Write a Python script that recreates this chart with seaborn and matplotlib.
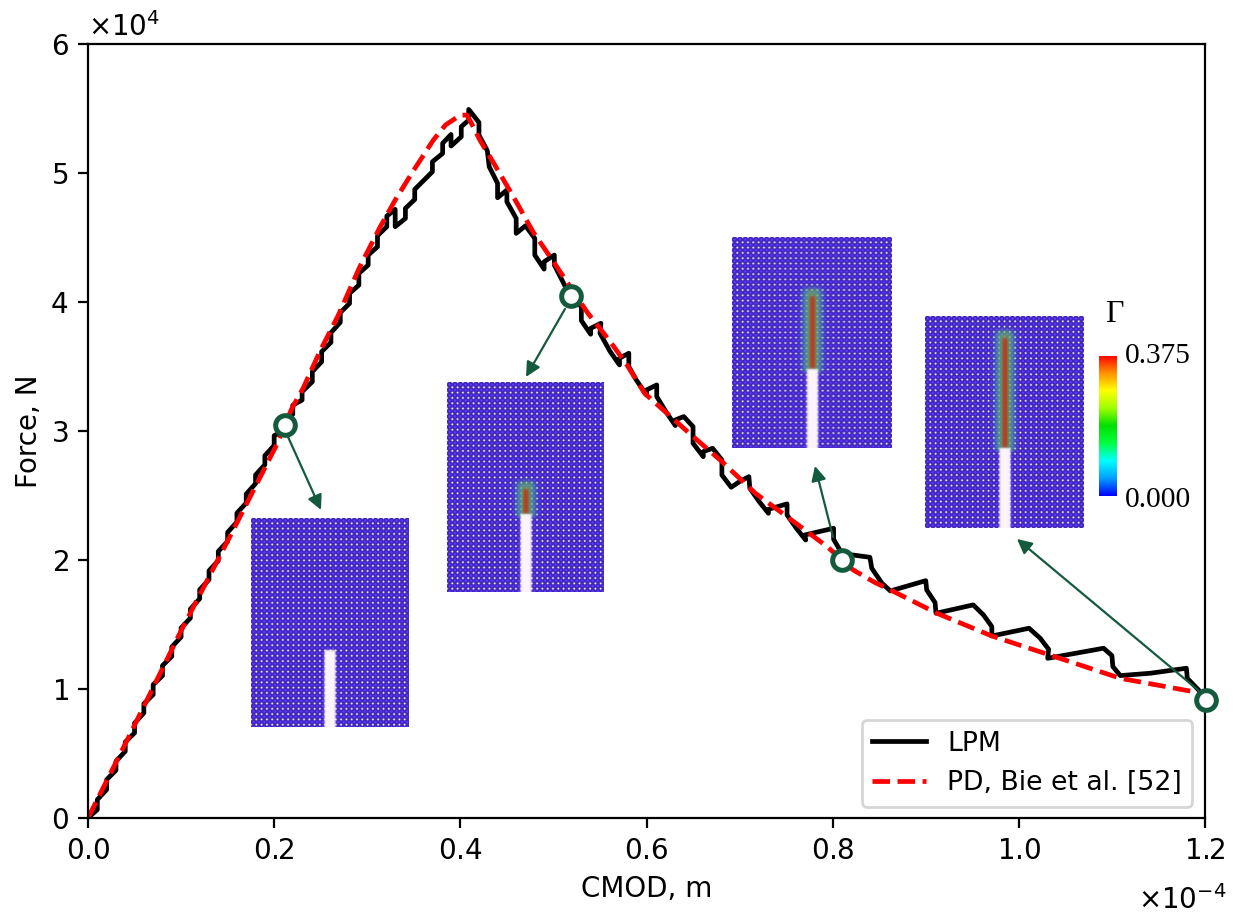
# Force vs CMOD curve, LPM against PD, with damage snapshots as insets
import numpy as np
import pandas as pd
import seaborn as sns
import matplotlib.pyplot as plt
from matplotlib.colors import LinearSegmentedColormap

# CMOD in 1e-4 m, force in 1e4 N, both
lpm_cmod = [0, .01, .01, .02, .02, .03, .03, .04, .04, .05, .05, .06, .06, .07, .07, .08, .08, .09, .09,
            .10, .10, .11, .11, .12, .12, .13, .13, .14, .14, .15, .15, .16, .16, .17, .17, .18, .18,
            .19, .19, .20, .20, .21, .21, .22, .22, .23, .23, .241, .241, .251, .251, .261, .261,
            .271, .271, .281, .281, .291, .291, .301, .301, .311, .311, .321, .321, .330, .330,
            .341, .341, .351, .351, .370, .370, .381, .381, .390, .390, .401, .401, .409, .409,
            .420, .420, .429, .431, .440, .440, .450, .450, .460, .460, .470, .480, .480, .490, .490,
            .501, .501, .512, .518, .530, .530, .540, .540, .551, .550, .561, .571, .571, .581, .581,
            .589, .600, .600, .611, .611, .622, .631, .631, .640, .650, .650, .661, .661, .671, .681,
            .681, .691, .700, .710, .711, .721, .731, .731, .751, .751, .761, .771, .770, .801, .801,
            .810, .840, .842, .853, .862, .900, .901, .910, .911, .951, .962, .971, .971, 1.011,
            1.023, 1.032, 1.031, 1.071, 1.091, 1.100, 1.101, 1.109, 1.141, 1.180, 1.181, 1.193, 1.200]
lpm_force = [0, .065, .142, .220, .297, .370, .439, .517, .589, .659, .736, .814, .886, .956, 1.034, 1.103, 1.181, 1.253, 1.326,
             1.403, 1.473, 1.550, 1.620, 1.700, 1.770, 1.848, 1.917, 1.995, 2.067, 2.145, 2.214, 2.295, 2.364, 2.442, 2.512, 2.592, 2.659,
             2.739, 2.809, 2.889, 2.964, 3.000, 3.070, 3.130, 3.200, 3.240, 3.305, 3.382, 3.460, 3.537, 3.615, 3.687, 3.762,
             3.842, 3.917, 3.989, 4.067, 4.131, 4.222, 4.286, 4.364, 4.428, 4.514, 4.584, 4.666, 4.718, 4.584,
             4.648, 4.726, 4.795, 4.873, 5.010, 5.087, 5.152, 5.230, 5.299, 5.209, 5.281, 5.359, 5.410, 5.493,
             5.392, 5.294, 5.173, 5.049, 4.920, 4.808, 4.868, 4.777, 4.648, 4.532, 4.591, 4.493, 4.364, 4.255, 4.312,
             4.364, 4.286, 4.131, 4.046, 3.964, 3.856, 3.750, 3.796, 3.835, 3.758, 3.615, 3.512, 3.564, 3.603, 3.499,
             3.396, 3.279, 3.318, 3.357, 3.267, 3.137, 3.042, 3.086, 3.112, 3.034, 2.905, 2.801, 2.840, 2.866, 2.776,
             2.659, 2.564, 2.608, 2.646, 2.556, 2.453, 2.362, 2.393, 2.435, 2.349, 2.246, 2.155, 2.194, 2.246, 2.160,
             2.050, 2.021, 1.936, 1.820, 1.760, 1.840, 1.768, 1.670, 1.587, 1.652, 1.574, 1.484, 1.411, 1.471,
             1.393, 1.308, 1.238, 1.290, 1.316, 1.259, 1.174, 1.104, 1.122, 1.161, 1.083, .993, .915]

pd_cmod = [0, .045, .0988, .1526, .2027, .219, .231, .249, .269, .292, .314, .330, .350, .371, .384, .400, .407, .411,
           .421, .435, .457, .478, .500, .518, .537, .561, .579, .598, .622, .650, .679, .717, .758, .794, .822, .845,
           .862, .912, .971, 1.033, 1.109, 1.193, 1.200]
pd_force = [0, .646, 1.434, 2.184, 2.894, 3.175, 3.330, 3.615, 3.899, 4.273, 4.584, 4.790, 5.023, 5.255, 5.372, 5.449, 5.449, 5.398,
            5.255, 5.087, 4.816, 4.545, 4.312, 4.118, 3.913, 3.693, 3.512, 3.292, 3.137, 2.957, 2.776, 2.517, 2.298, 2.104, 1.923, 1.827,
            1.768, 1.587, 1.411, 1.264, 1.083, .972, .930]

snap_cmod = [.212, .519, .810, 1.201]
snap_force = [3.05, 4.045, 2.0, .915]
arrow_from = [(.2149, 2.954), (.5124, 3.946), (.8004, 2.178), (1.1925, .992)]
arrow_to = [(.2503, 2.388), (.4705, 3.419), (.781, 2.729), (.998, 2.163)]

# inset boxes in pixels of the picture: left, right, top, bottom, crack x, crack tip y, damage tip y
W, H = 1239, 915
panels = [(251, 409, 518, 727, 330, 650, 650),
          (447, 604, 382, 592, 526, 514, 482),
          (732, 891, 237, 448, 812, 369, 289),
          (925, 1084, 316, 528, 1005, 448, 331)]

GREEN = "#145a3c"
gamma_cmap = LinearSegmentedColormap.from_list(
    "gamma", ["#0000ff", "#00a0ff", "#00ffff", "#00ff40", "#00e000", "#a0ff00", "#ffff00", "#ff9000", "#ff0000"])


def px_axes(fig, l, r, t, b):
    ax = fig.add_axes([l / W, 1 - b / H, (r - l) / W, (b - t) / H])
    ax.axis("off")
    return ax


def step(d, s=1.5):
    return 1 / (1 + np.exp(np.clip(d / s, -30, 30)))


def panel_image(l, r, t, b, cx, crack, tip):
    xx, yy = np.meshgrid(np.arange(l, r) + .5, np.arange(t, b) + .5)
    u = .5 + .5 * np.cos(2 * np.pi * (xx - l) / 5.3)
    v = .5 + .5 * np.cos(2 * np.pi * (yy - t) / 5.3)
    img = np.zeros(xx.shape + (3,))
    base = np.array([.16, .05, .62])
    cell = np.array([.32, .18, .92])
    dot = np.array([.74, .72, .92])
    line = np.array([.42, .35, .78])
    for c in range(3):
        img[..., c] = (base[c] + (cell[c] - base[c]) * (1 - u) * (1 - v) * 1.5
                       + (line[c] - base[c]) * .45 * (u ** 4 + v ** 4)
                       + (dot[c] - base[c]) * (u * v) ** 2.5)
    if tip < crack:
        dist = np.abs(xx - cx)
        inside = step(tip - yy, 1.5) * step(yy - crack - 3, 1)
        halo = step(dist - 10, 1.5) * inside * .6
        mid = step(dist - 6.5, 1.3) * inside * .55
        core = step(dist - 2.5, .7) * step(tip + 7 - yy, 1) * step(yy - crack, 1) * .9
        for col, m in (((.25, .68, .68), halo), ((.45, .68, .28), mid), ((.75, .2, .06), core)):
            for c in range(3):
                img[..., c] = img[..., c] * (1 - m) + col[c] * m
    white = step(np.abs(xx - cx) - 5.5, .5) * step(crack - yy, .5)
    for c in range(3):
        img[..., c] = img[..., c] * (1 - white) + white * (.99, .96, .99)[c]
    return np.clip(img, 0, 1)


lpm = pd.DataFrame({"cmod": np.array(lpm_cmod) * 1e-4, "force": np.array(lpm_force) * 1e4})
pdm = pd.DataFrame({"cmod": np.array(pd_cmod) * 1e-4, "force": np.array(pd_force) * 1e4})
snaps = pd.DataFrame({"cmod": np.array(snap_cmod) * 1e-4, "force": np.array(snap_force) * 1e4})

fig = plt.figure(figsize=(W / 200, H / 200), dpi=200)
ax = fig.add_axes([88 / W, 1 - 818 / H, (1205 - 88) / W, (818 - 44) / H])

sns.lineplot(data=lpm, x="cmod", y="force", ax=ax, color="black", lw=1.7, sort=False,
             estimator=None, label="LPM")
sns.lineplot(data=pdm, x="cmod", y="force", ax=ax, color="red", lw=1.7, ls="--", sort=False,
             estimator=None, label="PD, Bie et al. [52]")

for a, b in zip(arrow_from, arrow_to):
    ax.annotate("", xy=(b[0] * 1e-4, b[1] * 1e4), xytext=(a[0] * 1e-4, a[1] * 1e4),
                arrowprops=dict(arrowstyle="-|>", color=GREEN, lw=.8, mutation_scale=11,
                                shrinkA=0, shrinkB=0))

sns.scatterplot(data=snaps, x="cmod", y="force", ax=ax, s=50, color="white", edgecolor=GREEN,
                linewidth=1.8, zorder=5, clip_on=False, legend=False)

ax.set_xlim(0, 1.2e-4)
ax.set_ylim(0, 6e4)
ax.set_xlabel("CMOD, m", labelpad=3.3)
ax.set_ylabel("Force, N", labelpad=2.5)
ax.ticklabel_format(axis="both", style="sci", scilimits=(0, 0), useMathText=True)
ax.xaxis.get_offset_text().set_visible(False)
ax.legend(loc="lower right", fontsize=9.6, bbox_to_anchor=(.9888, .0148), borderaxespad=0)

for l, r, t, b, cx, crack, tip in panels:
    iax = px_axes(fig, l, r, t, b)
    iax.imshow(panel_image(l, r, t, b, cx, crack, tip), aspect="auto", interpolation="bilinear")

cax = px_axes(fig, 1099, 1117, 356, 496)
cax.imshow(np.linspace(1, 0, 256)[:, None], cmap=gamma_cmap, aspect="auto")

serif = "Liberation Serif"
fig.text(1125 / W, 1 - 356 / H, "0.375", family=serif, fontsize=10.6, va="center")
fig.text(1125 / W, 1 - 500 / H, "0.000", family=serif, fontsize=10.6, va="center")
fig.text(1105 / W, 1 - 314 / H, "Γ", family=serif, fontsize=11.5, va="center")
fig.text(1226 / W, 1 - 900 / H, r"$\times10^{-4}$", ha="right", va="center")

fig.savefig("out.png", dpi=200)
